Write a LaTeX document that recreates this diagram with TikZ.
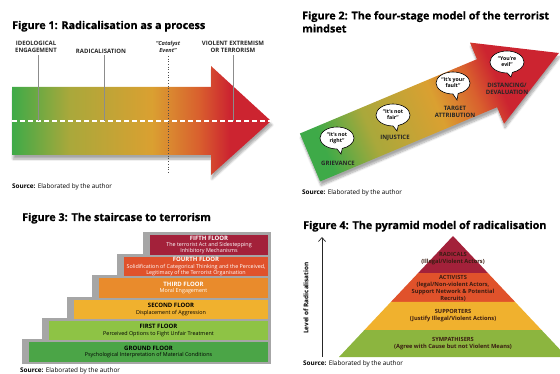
\documentclass[tikz,border=0pt]{standalone}
\usepackage{fontspec}
\setmainfont{Open Sans}
\newfontfamily\hdfont[FakeBold=0.6]{Open Sans}
\usetikzlibrary{calc,arrows.meta,shapes.callouts,shadows.blur}

\definecolor{figgreen}{HTML}{3EAA48}
\definecolor{figolive}{HTML}{A9A83B}
\definecolor{figorange}{HTML}{DAA031}
\definecolor{figorred}{HTML}{D9602E}
\definecolor{figred}{HTML}{CC2430}
\definecolor{stepmaroon}{HTML}{A3213A}
\definecolor{stepred}{HTML}{E0522B}
\definecolor{steporange}{HTML}{E98B2C}
\definecolor{stepyellow}{HTML}{F0B12E}
\definecolor{steplime}{HTML}{8EC345}
\definecolor{stepgreen}{HTML}{4BA547}
\definecolor{pyrgreen}{HTML}{8CB53F}
\definecolor{pyrtext}{HTML}{3A1C12}

\pgfdeclarehorizontalshading{radshade}{100bp}{color(0bp)=(figgreen); color(25bp)=(figgreen);
  color(36bp)=(figolive); color(52bp)=(figorange); color(61bp)=(figorred);
  color(67bp)=(figred); color(100bp)=(figred)}

\tikzset{ttl/.style = {anchor=base west, inner sep=0, font=\hdfont\bfseries\fontsize{10.8}{13}\selectfont},
         src/.style = {anchor=base west, inner sep=0, font=\fontsize{6.4}{7.5}\selectfont},
         lbl/.style = {inner sep=0, align=center, text=black!85, font=\bfseries\fontsize{6}{7.2}\selectfont},
         tick/.style = {black!45, line width=0.5pt},
         arrshadow/.style = {blur shadow={shadow xshift=1pt, shadow yshift=-4pt, shadow opacity=35, shadow blur steps=8}},
         bubble/.style = {ellipse callout, draw=black, line width=0.6pt, fill=white, inner sep=0,
                          minimum width=34pt, minimum height=22pt, align=center, callout pointer arc=18,
                          font=\bfseries\fontsize{5.2}{6.2}\selectfont},
         floor/.style = {inner sep=0, align=center, font=\fontsize{5.4}{6.4}\selectfont},
         pyr/.style = {inner sep=0, align=center, text=pyrtext, font=\bfseries\fontsize{5.7}{7}\selectfont}
        }

\begin{document}
\begin{tikzpicture}[x=1pt, y=-1pt]
\useasboundingbox (0,0) rectangle (560,374);
\clip (0,0) rectangle (560,374);

% Figure 1
\node[ttl] (t1) at (12,29) {Figure 1: Radicalisation as a process};
\shade[shading=radshade, arrshadow] (12,87) -- (211,87) -- (211,66) -- (271,121)
      -- (211,175) -- (211,155) -- (12,155) -- cycle;
\coordinate (a1l) at (12,121);
\coordinate (a1t) at (271,121);
\draw[white, line width=1.1pt, dash pattern=on 5pt off 3pt] (a1l) -- (a1t);
\node[lbl] (ie) at (36,47) {IDEOLOGICAL\\ENGAGEMENT};
\node[lbl] (rd) at (101,51) {RADICALISATION};
\node[lbl, font=\bfseries\itshape\fontsize{5.6}{7}\selectfont] (ce) at (168,47) {“Catalyst\\Event”};
\node[lbl] (ve) at (233,47) {VIOLENT EXTREMISM\\OR TERRORISM};
\coordinate (cb) at (168,173);
\draw[tick] ([xshift=2pt,yshift=-2pt]ie.south) -- ([xshift=2pt]ie.south |- a1t);
\draw[tick] ([xshift=3pt,yshift=-2pt]rd.south) -- ([xshift=3pt]rd.south |- a1t);
\draw[tick] ([yshift=-2pt]ve.south) -- (ve.south |- a1t);
\draw[black!70, line width=0.7pt, dotted] ([yshift=-3pt]ce.south) -- (cb);
\node[src] (s1) at (12,189) {\textbf{Source:} Elaborated by the author};

% Figure 2
\node[ttl, anchor=north west, align=left] (t2) at (302,11) {Figure 2: The four-stage model of the terrorist\\mindset};
\shade[shading=radshade, shading angle=23, arrshadow] (299.9,133.5) -- (476.9,59.2) -- (470,42.6)
      -- (558.9,53) -- (504,123.8) -- (497.1,107.2) -- (320.1,181.5) -- cycle;
\node[bubble, callout absolute pointer={(341,154)}] (b1) at (337,138) {“It’s not\\right”};
\node[lbl] (g1) at (338,163) {GRIEVANCE};
\node[bubble, callout absolute pointer={(397,131)}] (b2) at (393,115) {“It’s not\\fair”};
\node[lbl] (g2) at (395,138) {INJUSTICE};
\node[bubble, callout absolute pointer={(457,100)}] (b3) at (453,83) {“It’s your\\fault”};
\node[lbl] (g3) at (455,112) {TARGET\\ATTRIBUTION};
\node[bubble, callout absolute pointer={(511,77)}] (b4) at (507,62) {“You’re\\evil”};
\node[lbl] (g4) at (507,89) {DISTANCING/\\DEVALUATION};
\node[src] (s2) at (302,195) {\textbf{Source:} Elaborated by the author};

% Figure 3
\node[ttl] (t3) at (22,221) {Figure 3: The staircase to terrorism};
\foreach \xa/\ya/\yb in {150/235/255, 124/257/276, 99/278/298, 74/300/319, 49/321/340, 29/342/362}
  \fill[black!35] (\xa-7,\ya-3) rectangle (271,\yb+2);
\foreach \xa/\ya/\yb/\col/\tcol/\fname/\fsub [count=\i] in {
    150/235/255/stepmaroon/white/FIFTH FLOOR/{The terrorist Act and Sidestepping\\Inhibitory Mechanisms},
    124/257/276/stepred/white/FOURTH FLOOR/{Solidification of Categorical Thinking and the Perceived,\\Legitimacy of the Terrorist Organisation},
    99/278/298/steporange/white/THIRD FLOOR/Moral Engagement,
    74/300/319/stepyellow/black/SECOND FLOOR/Displacement of Aggression,
    49/321/340/steplime/black/FIRST FLOOR/Perceived Options to Fight Unfair Treatment,
    29/342/362/stepgreen/black/GROUND FLOOR/Psychological Interpretation of Material Conditions}
{
  \fill[\col] (\xa,\ya) rectangle (268,\yb);
  \node[floor, text=\tcol] (f\i) at ({(\xa+268)/2},{(\ya+\yb)/2}) {{\bfseries\fontsize{6}{6.6}\selectfont\fname}\\\fsub};
}
\node[src] (s3) at (20,372) {\textbf{Source:} Elaborated by the author};

% Figure 4
\node[ttl] (t4) at (303,229) {Figure 4: The pyramid model of radicalisation};
\coordinate (ap) at (453,236);
\coordinate (bl) at (339,357);
\coordinate (br) at (567,357);
\foreach \ta/\tb/\col in {0/0.306/stepmaroon, 0.306/0.545/stepred, 0.545/0.777/stepyellow, 0.777/1/pyrgreen}
  \fill[\col] ($(ap)!\ta!(bl)$) -- ($(ap)!\tb!(bl)$) -- ($(ap)!\tb!(br)$) -- ($(ap)!\ta!(br)$) -- cycle;
\node[pyr] (p1) at (453,259) {RADICALS\\(Illegal/Violent Actors)};
\node[pyr] (p2) at (453,288) {ACTIVISTS\\(legal/Non-violent Actors,\\Support Network \& Potential\\Recruits)};
\node[pyr] (p3) at (453,316) {SUPPORTERS\\(Justify Illegal/Violent Actions)};
\node[pyr] (p4) at (453,344) {SYMPATHISERS\\(Agree with Cause but not Violent Means)};
\coordinate (lb) at (322,357);
\coordinate (lt) at (322,237);
\draw[-{Straight Barb[length=4pt,width=7pt]}, line width=0.7pt, black!85] (lb) -- (lt);
\node[rotate=90, inner sep=0, font=\bfseries\fontsize{6.4}{7.5}\selectfont] (lv) at (306,298) {Level of Radicalisation};
\node[src] (s4) at (303,366) {\textbf{Source:} Elaborated by the author};
\end{tikzpicture}
\end{document}
